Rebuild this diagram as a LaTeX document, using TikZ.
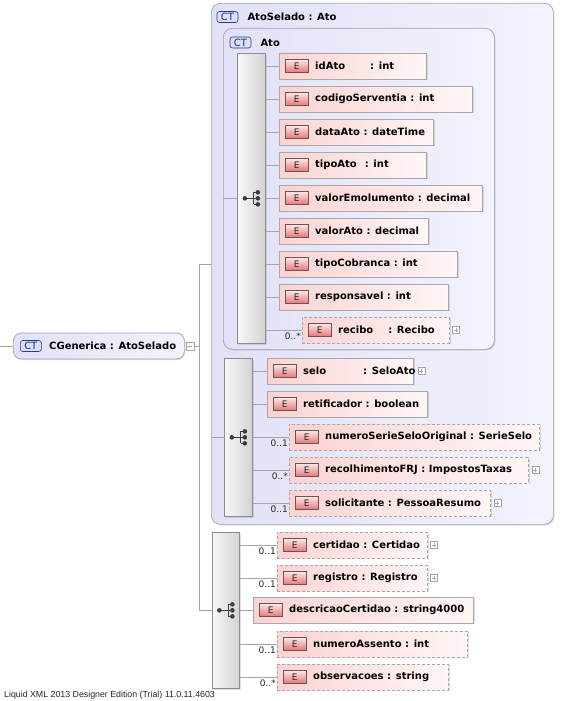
\documentclass[tikz,border=0pt]{standalone}
\usepackage{fontspec}
\setmainfont{DejaVu Sans}
\newfontfamily\footfont{Liberation Sans}
\usetikzlibrary{positioning,shadows}

\definecolor{elPink}{HTML}{FBD3D3}
\definecolor{elPinkLight}{HTML}{FFF6F6}
\definecolor{elBorder}{HTML}{A9A9A9}
\definecolor{badgeTop}{HTML}{FDE8E8}
\definecolor{badgeBot}{HTML}{E67676}
\definecolor{badgeBorder}{HTML}{6A5555}
\definecolor{ctFill}{HTML}{DCDFFA}
\definecolor{ctBorder}{HTML}{2B3990}
\definecolor{ctText}{HTML}{1F2C70}
\definecolor{boxLav}{HTML}{E1E1F8}
\definecolor{boxLavLight}{HTML}{F3F3FD}
\definecolor{boxBorder}{HTML}{A3A3AE}
\definecolor{seqDark}{HTML}{D3D3D3}
\definecolor{seqLight}{HTML}{F8F8F8}
\definecolor{seqBorder}{HTML}{8C8C8C}
\definecolor{lineGray}{HTML}{A5A5A5}
\definecolor{iconGray}{HTML}{3C3C3C}

\tikzset{
  conn/.style={draw=lineGray, line width=0.7pt},
  shadowed/.style={drop shadow={shadow xshift=1.2pt, shadow yshift=-1.2pt, opacity=0.25}},
  ebadge/.style={solid, anchor=west, xshift=6pt, rectangle, draw=badgeBorder, line width=0.6pt,
    top color=badgeTop, bottom color=badgeBot, minimum width=23, minimum height=13, inner sep=0,
    font=\fontsize{9}{9}\selectfont, text=black!85},
  etext/.style={solid, anchor=west, xshift=36pt, inner sep=0, font=\bfseries\fontsize{10}{12}\selectfont},
  mult/.style={solid, anchor=south east, yshift=3pt, inner sep=1pt, font=\fontsize{9}{9}\selectfont, text=black!85},
  elem/.style={rectangle, draw=elBorder, line width=0.7pt, left color=elPink, right color=elPinkLight,
    minimum height=26, inner sep=0, anchor=west, shadowed, label={[ebadge]west:E}},
  optelem/.style={elem, dash pattern=on 3pt off 2pt},
  ctbadge/.style={rectangle, rounded corners=2.5pt, draw=ctBorder, line width=0.6pt, fill=ctFill,
    minimum width=21, minimum height=11, inner sep=0, font=\fontsize{10}{10}\selectfont, text=ctText},
  ctbox/.style={rectangle, rounded corners=9pt, draw=boxBorder, line width=0.7pt,
    left color=boxLav, right color=boxLavLight, inner sep=0, anchor=north west, shadowed},
  htext/.style={inner sep=0, font=\bfseries\fontsize{10}{12}\selectfont},
  seqbox/.style={rectangle, draw=seqBorder, line width=0.7pt, left color=seqLight, right color=seqDark,
    inner sep=0, anchor=north west, shadowed,
    path picture={
      \begin{scope}[shift={(path picture bounding box.center)}, x=1pt, y=-1pt]
        \draw[iconGray, line width=1pt] (-6.5,0) -- (2.5,0) (2.5,-6) -- (2.5,6)
          (2.5,-6) -- (6.5,-6) (2.5,0) -- (6.5,0) (2.5,6) -- (6.5,6);
        \fill[iconGray] (-6.5,0) circle[radius=2.3pt] (6.5,-6) circle[radius=2.3pt]
          (6.5,0) circle[radius=2.3pt] (6.5,6) circle[radius=2.3pt];
      \end{scope}
    }},
  pmbox/.style={rectangle, draw=lineGray, fill=white, minimum size=7, inner sep=0, line width=0.5pt},
  plusbox/.style={pmbox, path picture={
      \draw[lineGray, line width=0.6pt]
        ([xshift=-2pt]path picture bounding box.center) -- ([xshift=2pt]path picture bounding box.center)
        ([yshift=-2pt]path picture bounding box.center) -- ([yshift=2pt]path picture bounding box.center);}},
  minusbox/.style={pmbox, minimum size=8, path picture={
      \draw[lineGray, line width=0.6pt]
        ([xshift=-2.5pt]path picture bounding box.center) -- ([xshift=2.5pt]path picture bounding box.center);}},
  foot/.style={inner sep=0, anchor=west, font=\footfont\fontsize{8.8}{10}\selectfont, text=black!85}
}

\begin{document}
\begin{tikzpicture}[x=1pt, y=-1pt]
	\useasboundingbox[fill=white] (0,0) rectangle (566,701);
	
	% root type
	\coordinate (root) at (0,346);
	\node[ctbox, anchor=west, rounded corners=8pt, minimum width=171, minimum height=26,
	  label={[ctbadge, anchor=west, xshift=7pt]west:CT},
	  label={[etext]west:{CGenerica : AtoSelado}}] (cgen) at (13,346) {};
	\node[minusbox, right=1pt of cgen] (cgenPm) {};
	\coordinate (trunk) at (199,346);
	
	% AtoSelado : Ato
	\node[ctbox, minimum width=342, minimum height=521] (atoSelado) at (211,3) {};
	\node[ctbadge] (selCT) at (227.5,17) {CT};
	\node[htext, right=9pt of selCT] (selTitle) {AtoSelado : Ato};
	
	% Ato
	\node[ctbox, minimum width=271, minimum height=321] (ato) at (223,28) {};
	\node[ctbadge] (atoCT) at (240.5,42.5) {CT};
	\node[htext, right=9pt of atoCT] (atoTitle) {Ato};
	\node[seqbox, minimum width=28, minimum height=290] (seqAto) at (237,53) {};
	
	\node[elem, minimum width=147, label={[etext]west:{idAto\hspace{25pt}: int}}] (idAto) at (279,66) {};
	\node[elem, minimum width=193, label={[etext]west:{codigoServentia : int}}] (codigoServentia) at (279,99) {};
	\node[elem, minimum width=154, label={[etext]west:{dataAto : dateTime}}] (dataAto) at (279,132) {};
	\node[elem, minimum width=147, label={[etext]west:{tipoAto\hspace{8pt}: int}}] (tipoAto) at (279,165) {};
	\node[elem, minimum width=203, label={[etext]west:{valorEmolumento : decimal}}] (valorEmolumento) at (279,198) {};
	\node[elem, minimum width=149, label={[etext]west:{valorAto : decimal}}] (valorAto) at (279,231) {};
	\node[elem, minimum width=178, label={[etext]west:{tipoCobranca : int}}] (tipoCobranca) at (279,264) {};
	\node[elem, minimum width=169, label={[etext]west:{responsavel : int}}] (responsavel) at (279,297) {};
	\node[optelem, minimum width=147, label={[etext]west:{recibo\hspace{15pt}: Recibo}},
	  label={[mult]south west:0..*}] (recibo) at (302,330) {};
	\node[plusbox, right=2.5pt of recibo] (reciboPm) {};
	
	% AtoSelado sequence
	\node[seqbox, minimum width=28, minimum height=158] (seqSel) at (224,358) {};
	
	\node[elem, minimum width=146, label={[etext]west:{selo\hspace{37pt}: SeloAto}}] (selo) at (267,371) {};
	\node[plusbox, right=4pt of selo] (seloPm) {};
	\node[elem, minimum width=160, label={[etext]west:{retificador : boolean}}] (retificador) at (267,404) {};
	\node[optelem, minimum width=250, label={[etext]west:{numeroSerieSeloOriginal : SerieSelo}},
	  label={[mult]south west:0..1}] (numeroSerie) at (289,437) {};
	\node[optelem, minimum width=239, label={[etext]west:{recolhimentoFRJ : ImpostosTaxas}},
	  label={[mult]south west:0..*}] (recolhimentoFRJ) at (289,470) {};
	\node[plusbox, right=3pt of recolhimentoFRJ] (recolhimentoPm) {};
	\node[optelem, minimum width=201, label={[etext]west:{solicitante : PessoaResumo}},
	  label={[mult]south west:0..1}] (solicitante) at (289,503) {};
	\node[plusbox, right=3pt of solicitante] (solicitantePm) {};
	
	% CGenerica sequence
	\node[seqbox, minimum width=27, minimum height=156] (seqGen) at (212,532) {};
	
	\node[optelem, minimum width=150, label={[etext]west:{certidao : Certidao}},
	  label={[mult]south west:0..1}] (certidao) at (277,545) {};
	\node[plusbox, right=2.5pt of certidao] (certidaoPm) {};
	\node[optelem, minimum width=150, label={[etext]west:{registro : Registro}},
	  label={[mult]south west:0..1}] (registro) at (277,578) {};
	\node[plusbox, right=2.5pt of registro] (registroPm) {};
	\node[elem, minimum width=220, label={[etext]west:{descricaoCertidao : string4000}}] (descricaoCertidao) at (253,610) {};
	\node[optelem, minimum width=190, label={[etext]west:{numeroAssento : int}},
	  label={[mult]south west:0..1}] (numeroAssento) at (277,644) {};
	\node[optelem, minimum width=171, label={[etext]west:{observacoes : string}},
	  label={[mult]south west:0..*}] (observacoes) at (277,677) {};
	
	% connectors
	\draw[conn] (root) -- (cgen.west);
	\draw[conn] (cgenPm.east) -- (trunk);
	\draw[conn] (atoSelado.west -| trunk) -- (seqGen.west -| trunk);
	\draw[conn] (atoSelado.west -| trunk) -- (atoSelado.west);
	\draw[conn] (seqGen.west -| trunk) -- (seqGen.west);
	\draw[conn] (seqAto.west) -- (seqAto.west -| ato.west);
	\draw[conn] (seqSel.west) -- (seqSel.west -| atoSelado.west);
	
	\draw[conn] (seqAto.east |- idAto.west) -- (idAto.west);
	\draw[conn] (seqAto.east |- codigoServentia.west) -- (codigoServentia.west);
	\draw[conn] (seqAto.east |- dataAto.west) -- (dataAto.west);
	\draw[conn] (seqAto.east |- tipoAto.west) -- (tipoAto.west);
	\draw[conn] (seqAto.east |- valorEmolumento.west) -- (valorEmolumento.west);
	\draw[conn] (seqAto.east |- valorAto.west) -- (valorAto.west);
	\draw[conn] (seqAto.east |- tipoCobranca.west) -- (tipoCobranca.west);
	\draw[conn] (seqAto.east |- responsavel.west) -- (responsavel.west);
	\draw[conn] (seqAto.east |- recibo.west) -- (recibo.west);
	
	\draw[conn] (seqSel.east |- selo.west) -- (selo.west);
	\draw[conn] (seqSel.east |- retificador.west) -- (retificador.west);
	\draw[conn] (seqSel.east |- numeroSerie.west) -- (numeroSerie.west);
	\draw[conn] (seqSel.east |- recolhimentoFRJ.west) -- (recolhimentoFRJ.west);
	\draw[conn] (seqSel.east |- solicitante.west) -- (solicitante.west);
	
	\draw[conn] (seqGen.east |- certidao.west) -- (certidao.west);
	\draw[conn] (seqGen.east |- registro.west) -- (registro.west);
	\draw[conn] (seqGen.east |- descricaoCertidao.west) -- (descricaoCertidao.west);
	\draw[conn] (seqGen.east |- numeroAssento.west) -- (numeroAssento.west);
	\draw[conn] (seqGen.east |- observacoes.west) -- (observacoes.west);
	
	\node[foot] (footer) at (4,695) {Liquid XML 2013 Designer Edition (Trial) 11.0.11.4603};
	
\end{tikzpicture}
\end{document}
